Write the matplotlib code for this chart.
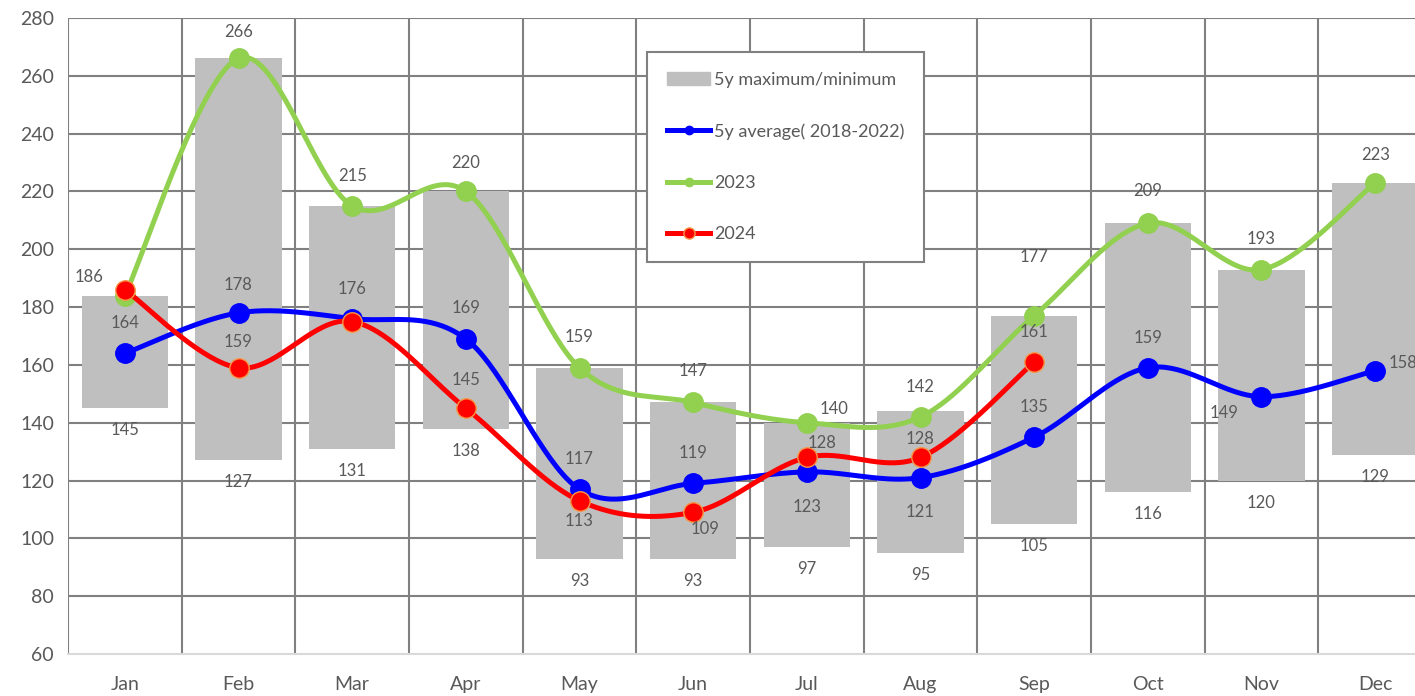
import numpy as np
import matplotlib
matplotlib.use("Agg")
import matplotlib.pyplot as plt
from matplotlib.lines import Line2D
from matplotlib.patches import Patch

plt.rcParams['font.family'] = ['Lato', 'DejaVu Sans']

# -----------------------------
# DATA
# -----------------------------
months = ['Jan', 'Feb', 'Mar', 'Apr', 'May', 'Jun',
          'Jul', 'Aug', 'Sep', 'Oct', 'Nov', 'Dec']
max_5y = [184, 266, 215, 220, 159, 147, 140, 144, 177, 209, 193, 223]
min_5y = [145, 127, 131, 138, 93, 93, 97, 95, 105, 116, 120, 129]
avg_5y = [164, 178, 176, 169, 117, 119, 123, 121, 135, 159, 149, 158]
y2023 = [184, 266, 215, 220, 159, 147, 140, 142, 177, 209, 193, 223]
y2024 = [186, 159, 175, 145, 113, 109, 128, 128, 161]

# label offsets in pixels (dx, dy); None = no label
avg_off = [(0, 30), (0, 28), (0, 30), (0, 31), (0, 30), (0, 30),
           (0, -35), (0, -34), (0, 30), (0, 30), (-37, -16), (28, 8)]
off_2023 = [None, (0, 26), (0, 30), (0, 28), (0, 31), (0, 31),
            (27, 14), (0, 30), (0, 59), (0, 32), (0, 31), (0, 28)]
off_2024 = [(-36, 13), (0, 26), None, (0, 28), (0, -20), (12, -17),
            (15, 14), (0, 18), (0, 30)]

TXT = '#595959'
GRID = '#808080'
BAR = '#BFBFBF'
BLUE = '#0000FF'
GREEN = '#92D050'
RED = '#FF0000'


def smooth(xs, ys, n=40):
    # catmull-rom style bezier, like excel's smoothed line
    p = np.column_stack([xs, ys]).astype(float)
    p = np.vstack([p[0], p, p[-1]])
    out = []
    for i in range(1, len(p) - 2):
        p0, p1, p2, p3 = p[i - 1], p[i], p[i + 1], p[i + 2]
        c1 = p1 + (p2 - p0) / 6
        c2 = p2 - (p3 - p1) / 6
        t = np.linspace(0, 1, n)[:, None]
        seg = ((1 - t) ** 3 * p1 + 3 * (1 - t) ** 2 * t * c1
               + 3 * (1 - t) * t ** 2 * c2 + t ** 3 * p2)
        out.append(seg)
    out = np.vstack(out)
    return out[:, 0], out[:, 1]


# -----------------------------
# PLOT
# -----------------------------
fig = plt.figure(figsize=(14.15, 6.96), dpi=100)
ax = fig.add_axes([68 / 1415, 1 - 654 / 696, 1364 / 1415, 636 / 696])

x = np.arange(len(months))

for yv in range(80, 281, 20):
    ax.axhline(yv, color=GRID, lw=1.5, zorder=0)
for xv in np.arange(-0.5, 12, 1):
    ax.axvline(xv, color=GRID, lw=1.5, zorder=0)

heights = np.array(max_5y) - np.array(min_5y)
ax.bar(x, heights, bottom=min_5y, width=0.76, color=BAR, zorder=1)

series = [
    (avg_5y, BLUE, BLUE, avg_off),
    (y2023, GREEN, GREEN, off_2023),
    (y2024, RED, '#F79646', off_2024),
]
for k, (vals, col, edge, offs) in enumerate(series):
    xi = x[:len(vals)]
    sx, sy = smooth(xi, vals)
    ax.plot(sx, sy, color=col, lw=3.6, zorder=3 + k, solid_capstyle='round')
    ax.plot(xi, vals, 'o', ms=14, color=col, mec=edge, mew=1, zorder=3 + k)
    for xx, v, o in zip(xi, vals, offs):
        if o is None:
            continue
        ax.annotate(str(v), (xx, v), xytext=o, textcoords='offset pixels',
                    ha='center', va='center', fontsize=12, color=TXT, zorder=10)

for xx, v in zip(x, min_5y):
    ax.annotate(str(v), (xx, v), xytext=(0, -22), textcoords='offset pixels',
                ha='center', va='center', fontsize=12, color=TXT, zorder=10)

ax.set_xlim(-0.5, 11.5)
ax.set_ylim(60, 280)
ax.set_yticks(range(60, 281, 20))
ax.set_xticks(x)
ax.set_xticklabels(months)
ax.tick_params(axis='both', length=0, labelsize=14, labelcolor=TXT)
ax.tick_params(axis='x', pad=16)
ax.tick_params(axis='y', pad=10)
for s in ['top', 'right', 'left']:
    ax.spines[s].set_visible(False)
ax.spines['bottom'].set_color('#D9D9D9')
ax.spines['bottom'].set_linewidth(1.5)
ax.spines['bottom'].set_zorder(2)

handles = [
    Patch(color=BAR),
    Line2D([], [], color=BLUE, lw=3.6, marker='o', ms=6),
    Line2D([], [], color=GREEN, lw=3.6, marker='o', ms=6),
    Line2D([], [], color=RED, lw=3.6, marker='o', ms=8, mec='#F79646'),
]
labels = ['5y maximum/minimum', '5y average( 2018-2022)', '2023', '2024']
leg = ax.legend(handles, labels, loc='upper left',
                bbox_to_anchor=((647 - 68) / 1364, (654 - 52) / 636),
                borderaxespad=0, fontsize=13, labelspacing=1.95,
                handlelength=2.4, handletextpad=0.2, borderpad=1.1,
                fancybox=False, edgecolor=GRID, framealpha=1,
                labelcolor=TXT)
leg.get_frame().set_linewidth(1.5)
leg.set_zorder(20)

plt.savefig('out.png', dpi=100)
